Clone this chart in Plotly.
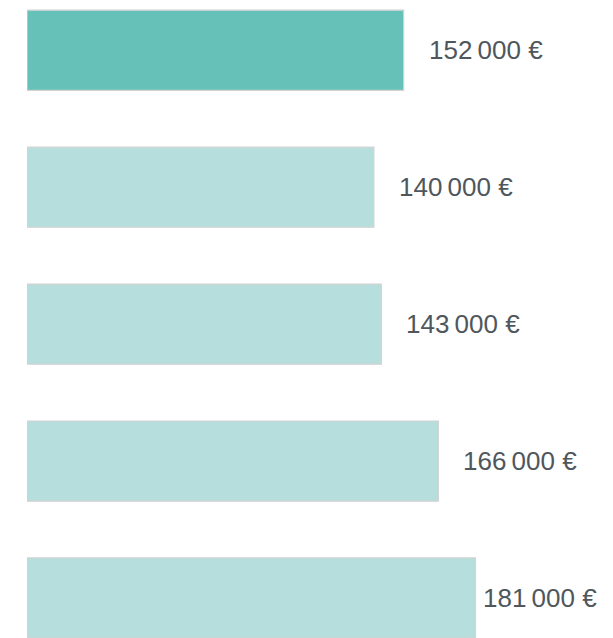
import plotly.graph_objects as go

# Values per row, top to bottom
values = [152000, 140000, 143000, 166000, 181000]
labels = ["152\u202f000 €", "140\u202f000 €", "143\u202f000 €", "166\u202f000 €", "181\u202f000 €"]
positions = list(range(len(values)))

W, H = 613, 638
LEFT = 27
X_MAX = 236500
px_per_unit = (W - LEFT) / X_MAX

colors = ["#66c2b8"] + ["#b5dedd"] * (len(values) - 1)

fig = go.Figure(
    go.Bar(
        x=values,
        y=positions,
        orientation="h",
        width=0.585,
        marker=dict(color=colors, line=dict(color="#d2d2d2", width=1.2)),
        hoverinfo="skip",
    )
)

# Value labels to the right of each bar, kept inside the canvas
TEXT_W = 116
GAP = 23
RIGHT_LIMIT = W - 16
for yv, v, lab in zip(positions, values, labels):
    end_px = LEFT + v * px_per_unit
    shift = min(GAP, RIGHT_LIMIT - TEXT_W - end_px)
    fig.add_annotation(
        x=v, y=yv, text=lab, showarrow=False,
        xanchor="left", yanchor="middle", xshift=shift,
        font=dict(family="Liberation Sans, Arial, sans-serif", size=26, color="#4f575c"),
    )

fig.update_layout(
    width=W, height=H,
    margin=dict(l=LEFT, r=0, t=0, b=0),
    paper_bgcolor="white", plot_bgcolor="white",
    showlegend=False,
    xaxis=dict(range=[0, X_MAX], visible=False, fixedrange=True),
    yaxis=dict(range=[4.292, -0.367], visible=False, fixedrange=True),
)

fig.write_html("out.html")
